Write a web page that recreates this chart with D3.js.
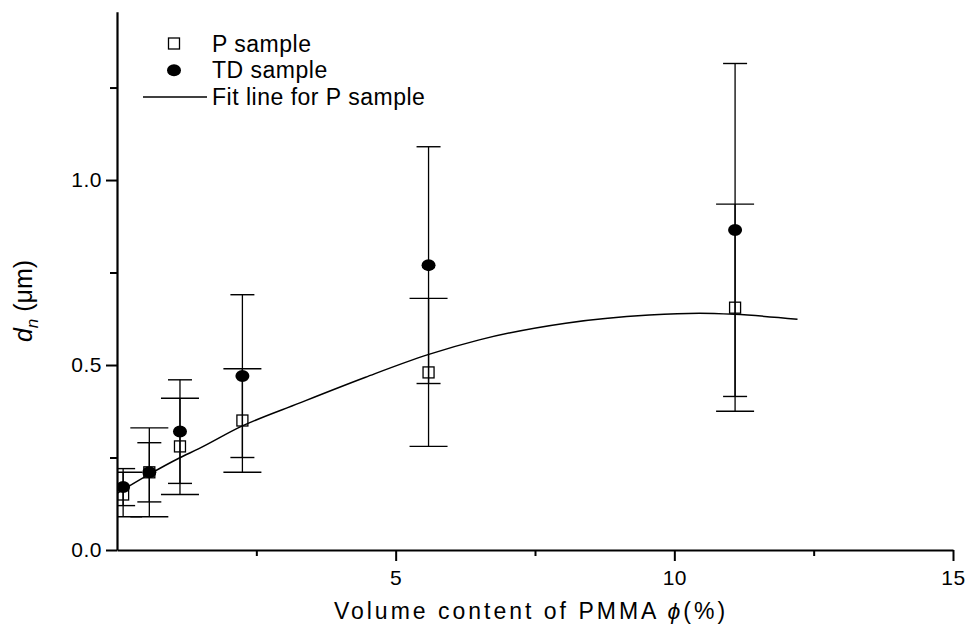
<!DOCTYPE html>
<html>
<head>
<meta charset="utf-8">
<script src="https://cdn.jsdelivr.net/npm/d3@7/dist/d3.min.js"></script>
<style>
    body { margin: 0; background: #fff; }
    text { font-family: "Liberation Sans", Arial, sans-serif; fill: #000; }
</style>
</head>
<body>
<script>

// volume content of PMMA (%) for each sample
var phi = [0.11, 0.58, 1.13, 2.25, 5.59, 11.09];

// P sample: mean size and error
var pMean = [0.15, 0.21, 0.28, 0.35, 0.48, 0.655];
var pErr  = [0.06, 0.12, 0.13, 0.14, 0.20, 0.28];

// TD sample: mean size and error
var tdMean = [0.17, 0.21, 0.32, 0.47, 0.77, 0.865];
var tdErr  = [0.05, 0.08, 0.14, 0.22, 0.32, 0.45];

// fit line for P sample
var fitX = [0, 0.56, 1.11, 1.47, 2.23, 3.27, 4.46, 5.58, 6.5, 8.05, 9.55, 10.45, 11.08, 12.21];
var fitY = [0.153, 0.203, 0.248, 0.274, 0.334, 0.397, 0.467, 0.528, 0.568, 0.613, 0.635, 0.64, 0.637, 0.624];

var xMajor = [5, 10, 15];
var xMinor = [2.5, 7.5, 12.5];
var yMajor = [0, 0.5, 1.0];
var yMinor = [0.25, 0.75, 1.25];

var legendNames = ["P sample", "TD sample", "Fit line for P sample"];

var w = 968;
var h = 627;

var svg = d3.select("body")
    .append("svg")
    .attr("width", w)
    .attr("height", h);

var x = d3.scaleLinear()
    .domain([0, 15])
    .range([117, 953]);

var y = d3.scaleLinear()
    .domain([0, 1.455])
    .range([550, 11.7]);

svg.append("clipPath")
    .attr("id", "plot")
    .append("rect")
    .attr("x", x(0))
    .attr("y", 0)
    .attr("width", x(15) - x(0))
    .attr("height", y(0));

var plot = svg.append("g").attr("clip-path", "url(#plot)");

// error bars, P caps are wider than TD caps
function errorBars(mean, err, capW) {
    var g = plot.append("g");
    g.selectAll("line.v")
        .data(mean)
        .enter().append("line")
        .attr("x1", function (d, i) { return x(phi[i]); })
        .attr("x2", function (d, i) { return x(phi[i]); })
        .attr("y1", function (d, i) { return y(d - err[i]); })
        .attr("y2", function (d, i) { return y(d + err[i]); })
        .attr("stroke", "#000")
        .attr("stroke-width", 1.3);
    [-1, 1].forEach(function (s) {
        g.selectAll(null)
            .data(mean)
            .enter().append("line")
            .attr("x1", function (d, i) { return x(phi[i]) - capW / 2; })
            .attr("x2", function (d, i) { return x(phi[i]) + capW / 2; })
            .attr("y1", function (d, i) { return y(d + s * err[i]); })
            .attr("y2", function (d, i) { return y(d + s * err[i]); })
            .attr("stroke", "#000")
            .attr("stroke-width", 1.4);
    });
}
errorBars(pMean, pErr, 38);
errorBars(tdMean, tdErr, 24);

var fitLine = d3.line()
    .x(function (d, i) { return x(fitX[i]); })
    .y(function (d) { return y(d); })
    .curve(d3.curveMonotoneX);

plot.append("path")
    .datum(fitY)
    .attr("d", fitLine)
    .attr("fill", "none")
    .attr("stroke", "#000")
    .attr("stroke-width", 1.5);

plot.selectAll("ellipse.td")
    .data(tdMean)
    .enter().append("ellipse")
    .attr("class", "td")
    .attr("cx", function (d, i) { return x(phi[i]); })
    .attr("cy", function (d) { return y(d); })
    .attr("rx", 7)
    .attr("ry", 6)
    .attr("fill", "#000");

plot.selectAll("rect.p")
    .data(pMean)
    .enter().append("rect")
    .attr("class", "p")
    .attr("x", function (d, i) { return x(phi[i]) - 5.5; })
    .attr("y", function (d) { return y(d) - 5.5; })
    .attr("width", 11)
    .attr("height", 11)
    .attr("fill", "none")
    .attr("stroke", "#000")
    .attr("stroke-width", 1.3);

// axes
svg.append("g")
    .attr("transform", "translate(0," + y(0) + ")")
    .call(d3.axisBottom(x).tickValues(xMajor).tickSize(11).tickSizeOuter(0).tickPadding(9));
svg.append("g")
    .attr("transform", "translate(0," + y(0) + ")")
    .call(d3.axisBottom(x).tickValues(xMinor).tickSize(6).tickFormat(""))
    .select(".domain").remove();

svg.append("g")
    .attr("transform", "translate(" + x(0) + ",0)")
    .call(d3.axisLeft(y).tickValues(yMajor).tickSize(11).tickSizeOuter(0).tickPadding(4).tickFormat(d3.format(".1f")));
svg.append("g")
    .attr("transform", "translate(" + x(0) + ",0)")
    .call(d3.axisLeft(y).tickValues(yMinor).tickSize(7).tickFormat(""))
    .select(".domain").remove();

svg.selectAll(".domain").attr("stroke-width", 2.2);
svg.selectAll(".tick line").attr("stroke-width", 2);
svg.selectAll(".tick text")
    .style("font-size", "21px")
    .style("letter-spacing", "0.5px")
    .attr("fill", "#000");

// axis titles
var xt = svg.append("text")
    .attr("x", 531)
    .attr("y", 619)
    .attr("text-anchor", "middle")
    .style("font-size", "23px")
    .style("letter-spacing", "3px");
xt.append("tspan").text("Volume content of PMMA ");
xt.append("tspan").style("font-style", "italic").text("\u03d5");
xt.append("tspan").text("(%)");

var yt = svg.append("text")
    .attr("transform", "translate(32,301) rotate(-90)")
    .attr("text-anchor", "middle")
    .style("font-size", "25px");
yt.append("tspan").style("font-style", "italic").text("d");
yt.append("tspan").style("font-style", "italic").style("font-size", "17px").attr("dy", 6).text("n");
yt.append("tspan").attr("dy", -6).text(" (\u03bcm)");

// legend
var legend = svg.selectAll(".legend")
    .data(legendNames)
    .enter().append("g")
    .attr("class", "legend")
    .attr("transform", function (d, i) { return "translate(0," + (43.5 + i * 26.8) + ")"; });

legend.filter(function (d, i) { return i === 0; })
    .append("rect")
    .attr("x", 168.5).attr("y", -5.5)
    .attr("width", 11).attr("height", 11)
    .attr("fill", "none").attr("stroke", "#000").attr("stroke-width", 1.3);
legend.filter(function (d, i) { return i === 1; })
    .append("ellipse")
    .attr("cx", 174).attr("cy", 0)
    .attr("rx", 7).attr("ry", 6)
    .attr("fill", "#000");
legend.filter(function (d, i) { return i === 2; })
    .append("line")
    .attr("x1", 143).attr("x2", 207)
    .attr("stroke", "#000").attr("stroke-width", 1.5);

legend.append("text")
    .attr("x", 212)
    .attr("y", 8)
    .style("font-size", "23px")
    .style("letter-spacing", "0.5px")
    .text(function (d) { return d; });

</script>
</body>
</html>
